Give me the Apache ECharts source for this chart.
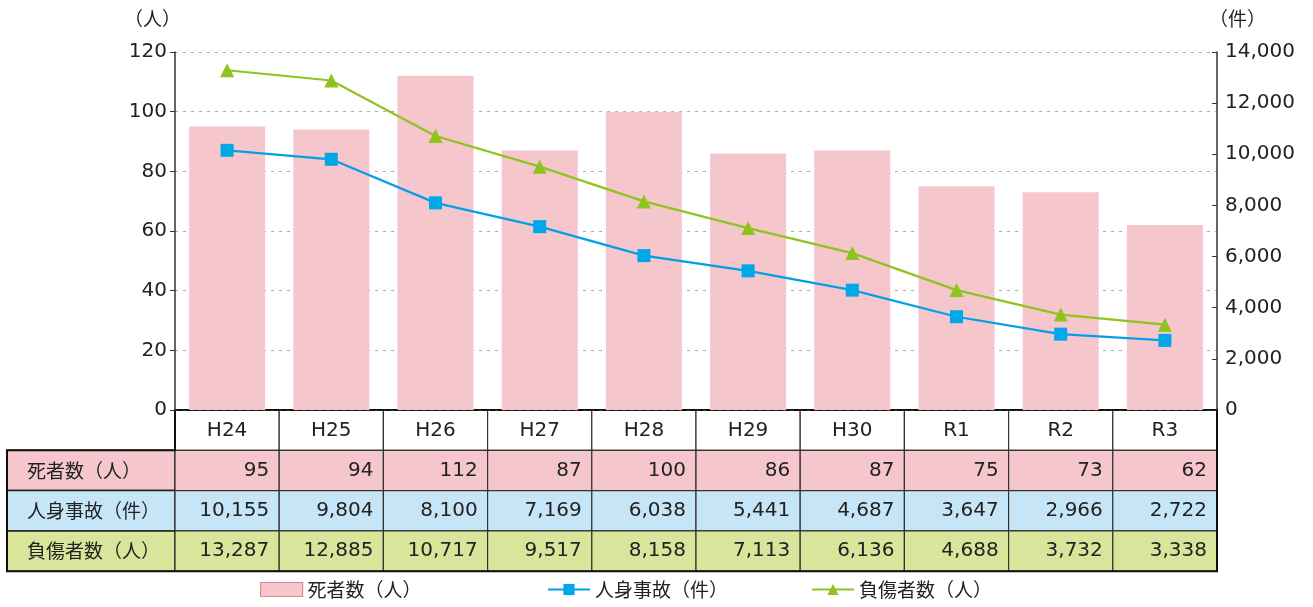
<!DOCTYPE html>
<html lang="ja">
<head>
    <meta charset="UTF-8">
    <title>死者数・人身事故・負傷者数</title>
    <script src="https://cdn.jsdelivr.net/npm/echarts@6/dist/echarts.min.js"></script>
</head>
<body style="margin:0;">
<div id="demo" style="width:1313px;height:607px;"></div>
<script>
    var years = ['H24', 'H25', 'H26', 'H27', 'H28', 'H29', 'H30', 'R1', 'R2', 'R3'];
    var deaths = [95, 94, 112, 87, 100, 86, 87, 75, 73, 62];
    var accidents = [10155, 9804, 8100, 7169, 6038, 5441, 4687, 3647, 2966, 2722];
    var injured = [13287, 12885, 10717, 9517, 8158, 7113, 6136, 4688, 3732, 3338];
    var rowNames = ['死者数（人）', '人身事故（件）', '負傷者数（人）'];

    var cjk = '"Noto Sans CJK JP", sans-serif';
    var num = '"DejaVu Sans", "Noto Sans CJK JP", sans-serif';
    var gl = 175, gr = 1217, gTop = 52, gBottom = 410;
    var colW = (gr - gl) / years.length;
    var rowH = 40.3;
    var rowColors = ['#f6c6cd', '#c6e6f8', '#d8e59a'];

    // 表の部分 (graphic で描く)
    var table = [];
    for (var i = 0; i < years.length; i++) {
        table.push({type: 'rect', shape: {x: gl + i * colW, y: gBottom, width: colW, height: rowH},
            style: {fill: '#fff', stroke: '#333', lineWidth: 1.2}});
    }
    var rows = [deaths, accidents, injured];
    for (var r = 0; r < 3; r++) {
        var y = gBottom + rowH * (r + 1);
        table.push({type: 'rect', shape: {x: 7, y: y, width: gl - 7, height: rowH},
            style: {fill: rowColors[r], stroke: '#222', lineWidth: 1.5}});
        table.push({type: 'text', x: 27, y: y + rowH / 2,
            style: {text: rowNames[r], font: '19px ' + cjk, fill: '#222', verticalAlign: 'middle'}});
        for (var c = 0; c < years.length; c++) {
            table.push({type: 'rect', shape: {x: gl + c * colW, y: y, width: colW, height: rowH},
                style: {fill: rowColors[r], stroke: '#333', lineWidth: 1.2}});
            table.push({type: 'text', x: gl + (c + 1) * colW - 10, y: y + rowH / 2,
                style: {text: rows[r][c].toLocaleString('en-US'), font: '20px ' + num, fill: '#222',
                    align: 'right', verticalAlign: 'middle'}});
        }
    }
    // 外枠
    table.push({type: 'polyline', shape: {points: [[gl, gBottom], [gr, gBottom], [gr, gBottom + rowH * 4], [7, gBottom + rowH * 4], [7, gBottom + rowH], [gl, gBottom + rowH], [gl, gBottom]]},
        style: {fill: null, stroke: '#111', lineWidth: 2}});

    function legendAt(left, item) {
        return {
            bottom: 3, left: left,
            itemWidth: 42, itemHeight: 14, itemGap: 7,
            textStyle: {fontSize: 19, color: '#222', fontFamily: cjk},
            data: [item]
        };
    }

    var myChart = echarts.init(document.getElementById('demo'));
    var option = {
        animation: false,
        textStyle: {fontFamily: num},
        grid: {left: gl, right: 1313 - gr, top: gTop, bottom: 607 - gBottom},
        legend: [
            legendAt(255, {name: rowNames[0], icon: 'rect', itemStyle: {color: '#f6c6cd', borderColor: '#d98a94', borderWidth: 1.2}}),
            legendAt(542, {name: rowNames[1]}),
            legendAt(806, {name: rowNames[2]})
        ],
        xAxis: {
            type: 'category',
            data: years,
            axisTick: {show: false},
            axisLine: {lineStyle: {color: '#111', width: 1.5}},
            axisLabel: {margin: 11, fontSize: 20, color: '#222', fontFamily: num}
        },
        yAxis: [
            {
                type: 'value', min: 0, max: 120, interval: 20,
                name: '（人）', nameGap: 24,
                nameTextStyle: {fontSize: 19, color: '#222', fontFamily: cjk, align: 'right', padding: [0, -6, 0, 0]},
                axisLine: {show: true, lineStyle: {color: '#333', width: 1.5}},
                axisTick: {show: true, length: 5, lineStyle: {color: '#333'}},
                axisLabel: {fontSize: 20, color: '#222', margin: 8, fontFamily: num},
                splitLine: {lineStyle: {type: [3, 5], color: '#aaa'}}
            },
            {
                type: 'value', min: 0, max: 14000, interval: 2000,
                name: '（件）', nameGap: 24,
                nameTextStyle: {fontSize: 19, color: '#222', fontFamily: cjk, align: 'left', padding: [0, 0, 0, -8]},
                axisLine: {show: true, lineStyle: {color: '#333', width: 1.5}},
                axisTick: {show: true, inside: true, length: 5, lineStyle: {color: '#333'}},
                axisLabel: {fontSize: 20, color: '#222', margin: 8, fontFamily: num,
                    formatter: function (v) { return v.toLocaleString('en-US'); }},
                splitLine: {show: false}
            }
        ],
        series: [
            {
                name: rowNames[0], type: 'bar', data: deaths, yAxisIndex: 0,
                barCategoryGap: '27%',
                itemStyle: {color: '#f6c6cd'}
            },
            {
                name: rowNames[1], type: 'line', data: accidents, yAxisIndex: 1,
                symbol: 'rect', symbolSize: 13,
                lineStyle: {color: '#00a0e9', width: 2.2},
                itemStyle: {color: '#00a8e8'}
            },
            {
                name: rowNames[2], type: 'line', data: injured, yAxisIndex: 1,
                symbol: 'triangle', symbolSize: 14,
                lineStyle: {color: '#8fc31f', width: 2.2},
                itemStyle: {color: '#8fc31f'}
            }
        ],
        graphic: table
    };
    myChart.setOption(option);
</script>
</body>
</html>
